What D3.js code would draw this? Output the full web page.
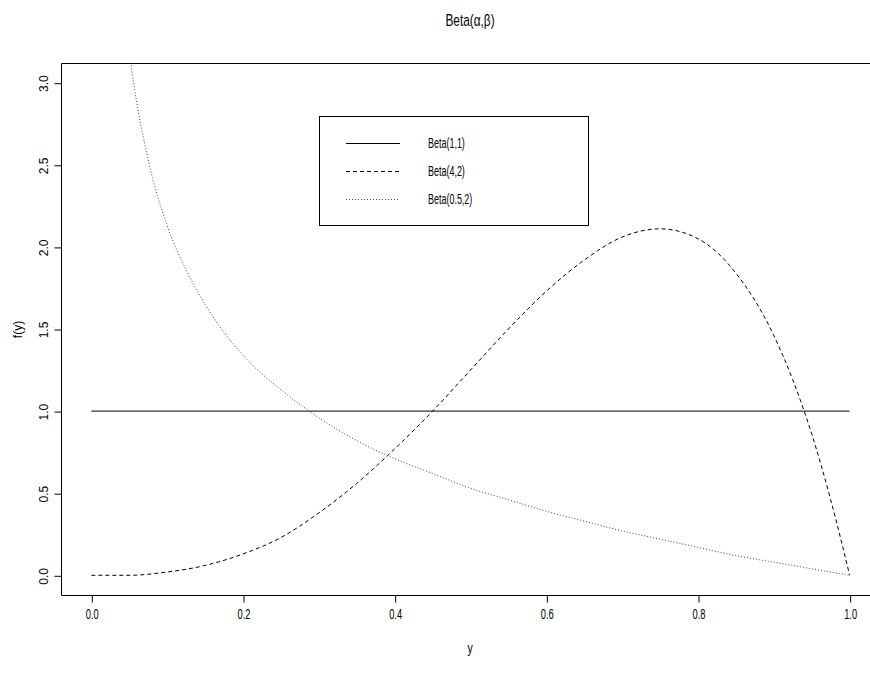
<!DOCTYPE html>
<html>
<head>
<meta charset="utf-8">
<script src="https://cdn.jsdelivr.net/npm/d3@7"></script>
<style>
  body { margin: 0; background: #fff; overflow: hidden; }
  svg { display: block; }
</style>
</head>
<body>
<svg id="chart" width="870" height="682"></svg>
<script>
// values
const xTicks = [0, 0.2, 0.4, 0.6, 0.8, 1.0];
const yTicks = [0, 0.5, 1.0, 1.5, 2.0, 2.5, 3.0];

const uniformX = [0, 1];
const uniformY = [1, 1];

const beta42X = [0, 0.05, 0.1, 0.15, 0.2, 0.25, 0.3, 0.35, 0.4, 0.45, 0.5, 0.55, 0.6, 0.65, 0.7, 0.75, 0.8, 0.85, 0.9, 0.925, 0.95, 0.975, 1.0];
const beta42Y = [0, 0.00, 0.02, 0.06, 0.13, 0.23, 0.38, 0.56, 0.77, 1.00, 1.25, 1.50, 1.73, 1.92, 2.06, 2.11, 2.05, 1.84, 1.46, 1.19, 0.86, 0.46, 0];

const beta052X = [0.02, 0.03, 0.04, 0.05, 0.075, 0.1, 0.125, 0.15, 0.2, 0.25, 0.3, 0.35, 0.4, 0.45, 0.5, 0.55, 0.6, 0.65, 0.7, 0.75, 0.8, 0.85, 0.9, 0.95, 1.0];
const beta052Y = [5.20, 4.20, 3.60, 3.19, 2.53, 2.13, 1.86, 1.65, 1.34, 1.13, 0.96, 0.82, 0.71, 0.62, 0.53, 0.46, 0.39, 0.33, 0.27, 0.22, 0.17, 0.12, 0.08, 0.04, 0];

const legendLabels = ["Beta(1,1)", "Beta(4,2)", "Beta(0.5,2)"];
const dashes = [null, "4,3", "1,2"];

const svg = d3.select("#chart");
const font = "'Liberation Sans', Arial, Helvetica, sans-serif";

// plot region (R style 4% axis expansion), right edge falls outside the window
const x = d3.scaleLinear().domain([-0.04, 1.04]).range([61, 880]);
const y = d3.scaleLinear().domain([-0.12, 3.12]).range([595, 63]);

svg.append("defs").append("clipPath").attr("id", "clip")
  .append("rect")
  .attr("x", x(-0.04)).attr("y", y(3.12))
  .attr("width", x(1.04) - x(-0.04)).attr("height", y(-0.12) - y(3.12));

// box (left, top, bottom; right side is off screen)
const boxL = x(-0.04) + 0.5, boxT = y(3.12) + 0.5, boxB = y(-0.12) + 0.5;
svg.append("path")
  .attr("d", `M900,${boxT}H${boxL}V${boxB}H900`)
  .attr("fill", "none").attr("stroke", "#000");

// condensed text helper
function condensed(sel, sx) {
  sel.each(function () {
    const t = d3.select(this);
    const tx = +t.attr("x") || 0, ty = +t.attr("y") || 0;
    t.attr("x", 0).attr("y", 0).attr("transform", `translate(${tx},${ty}) scale(${sx},1)`);
  });
}

// x axis
const gx = svg.append("g").attr("transform", `translate(0.5,${boxB})`)
  .call(d3.axisBottom(x).tickValues(xTicks).tickSize(7).tickPadding(6).tickFormat(d3.format(".1f")));
gx.select(".domain").remove();
gx.selectAll("text").attr("font-family", font).attr("font-size", 15).attr("fill", "#000")
  .attr("dy", "0.71em").attr("transform", "scale(0.62,1)");
gx.append("line").attr("x1", x(0)).attr("x2", x(1)).attr("stroke", "#000");

// y axis (rotated labels like R)
const gy = svg.append("g").attr("transform", `translate(${boxL},0.5)`)
  .call(d3.axisLeft(y).tickValues(yTicks).tickSize(7).tickFormat(d3.format(".1f")));
gy.select(".domain").remove();
gy.selectAll("text")
  .attr("font-family", font).attr("font-size", 12).attr("fill", "#000")
  .attr("x", null)
  .attr("text-anchor", "middle")
  .attr("transform", "translate(-18,0) rotate(-90)")
  .attr("dy", "0.35em");
gy.append("line").attr("y1", y(0)).attr("y2", y(3)).attr("stroke", "#000");

// title and axis labels
svg.append("text").attr("x", 470).attr("y", 26).attr("text-anchor", "middle")
  .attr("font-family", font).attr("font-size", 16).text("Beta(α,β)")
  .call(condensed, 0.74);
svg.append("text").attr("x", 470).attr("y", 653).attr("text-anchor", "middle")
  .attr("font-family", font).attr("font-size", 15).text("y")
  .call(condensed, 0.7);
svg.append("text").attr("transform", `translate(22,${(boxB + boxT) / 2}) rotate(-90)`)
  .attr("text-anchor", "middle").attr("font-family", font).attr("font-size", 12).text("f(y)");

// curves
const series = [
  { xs: uniformX, ys: uniformY },
  { xs: beta42X, ys: beta42Y },
  { xs: beta052X, ys: beta052Y }
];
const line = d3.line().x(d => x(d[0])).y(d => y(d[1])).curve(d3.curveMonotoneX);
const plot = svg.append("g").attr("clip-path", "url(#clip)");
series.forEach((s, i) => {
  plot.append("path")
    .datum(s.xs.map((v, j) => [v, s.ys[j]]))
    .attr("fill", "none")
    .attr("stroke", i === 2 ? "#444" : "#000")
    .attr("stroke-width", 1)
    .attr("stroke-dasharray", dashes[i])
    .attr("d", line);
});

// legend
const lg = svg.append("g");
lg.append("rect").attr("x", 319.5).attr("y", 116.5).attr("width", 269).attr("height", 109)
  .attr("fill", "#fff").attr("stroke", "#000");
legendLabels.forEach((lab, i) => {
  const yy = 143 + i * 28;
  lg.append("line").attr("x1", 346).attr("x2", 400).attr("y1", yy + 0.5).attr("y2", yy + 0.5)
    .attr("stroke", i === 2 ? "#444" : "#000").attr("stroke-dasharray", dashes[i]);
  lg.append("text").attr("x", 428).attr("y", yy + 5)
    .attr("font-family", font).attr("font-size", 14).text(lab)
    .call(condensed, 0.64);
});
</script>
</body>
</html>
